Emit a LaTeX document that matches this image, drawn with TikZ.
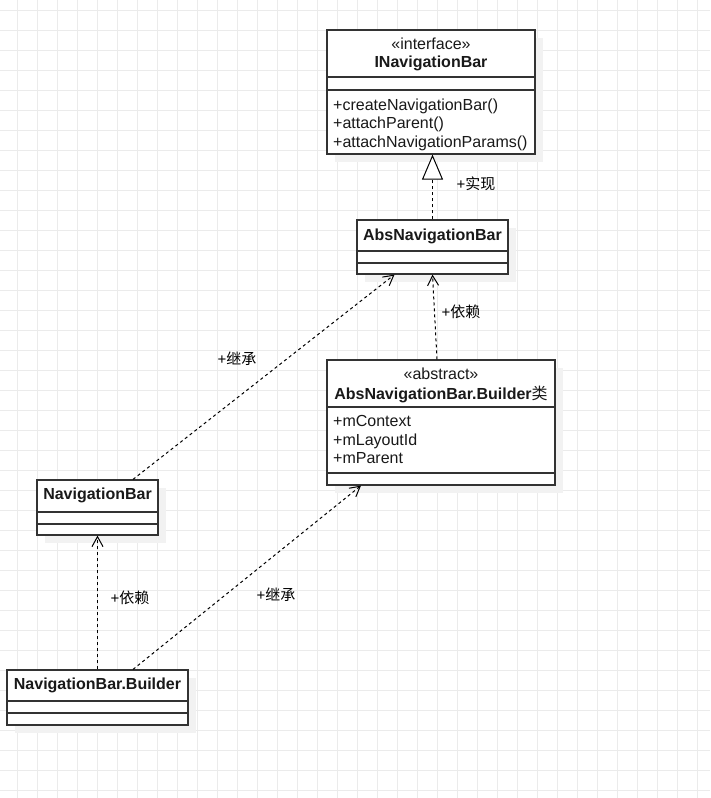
\documentclass[tikz,border=0pt]{standalone}
\usepackage{fontspec}
\setmainfont{Liberation Sans}
\newfontfamily\cjk{Noto Sans CJK SC}
\usetikzlibrary{arrows.meta,shadows}
\begin{document}
\begin{tikzpicture}[x=1pt,y=-1pt,
  gridline/.style={draw=black!8, line width=0.9pt},
  classbox/.style={draw=black!80, line width=1.2pt, fill=white, inner sep=0pt,
    drop shadow={shadow xshift=8pt, shadow yshift=-8pt, fill=black!5, opacity=1}},
  sepline/.style={draw=black!80, line width=1.2pt},
  txt/.style={inner sep=0pt, text=black!90, font=\fontsize{16}{18}\selectfont},
  ttl/.style={txt, font=\fontsize{16}{18}\selectfont\bfseries},
  lbl/.style={inner sep=0pt, font=\fontsize{15}{17}\selectfont},
  dep/.style={draw=black, line width=1pt, dash pattern=on 3pt off 3pt,
    -{Straight Barb[length=10pt,width=11pt]}},
  real/.style={draw=black, line width=1pt, dash pattern=on 3pt off 3pt,
    -{Triangle[open, length=25pt, width=21pt, fill=white]}}
]
\useasboundingbox (0,0) rectangle (710,798);
\fill[white] (0,0) rectangle (710,798);
% grid
\foreach \x in {17,37,...,710} \draw[gridline] (\x,0) -- (\x,798);
\foreach \y in {10,30,...,798} \draw[gridline] (0,\y) -- (710,\y);

% INavigationBar
\node[classbox, minimum width=208pt, minimum height=124pt] (inb) at (431,92) {};
\draw[sepline] (327,77) -- (535,77);
\draw[sepline] (327,90) -- (535,90);
\node[txt] (inbst) at (431,44) {«interface»};
\node[ttl] (inbt) at (431,63) {INavigationBar};
\node[txt, anchor=base west] (inbm1) at (333,110) {+createNavigationBar()};
\node[txt, anchor=base west] (inbm2) at (333,128.5) {+attachParent()};
\node[txt, anchor=base west] (inbm3) at (333,147) {+attachNavigationParams()};

% AbsNavigationBar
\node[classbox, minimum width=151pt, minimum height=54pt] (anb) at (432.5,247) {};
\draw[sepline] (357,251) -- (508,251);
\draw[sepline] (357,263) -- (508,263);
\node[ttl] (anbt) at (432.5,236) {AbsNavigationBar};

% AbsNavigationBar.Builder
\node[classbox, minimum width=228pt, minimum height=125pt] (abb) at (441,422.5) {};
\draw[sepline] (327,407) -- (555,407);
\draw[sepline] (327,473) -- (555,473);
\node[txt] (abbst) at (441,374) {«abstract»};
\node[ttl] (abbt) at (441,394) {AbsNavigationBar.Builder{\cjk\mdseries 类}};
\node[txt, anchor=base west] (abba1) at (333,426) {+mContext};
\node[txt, anchor=base west] (abba2) at (333,445) {+mLayoutId};
\node[txt, anchor=base west] (abba3) at (333,463.5) {+mParent};

% NavigationBar
\node[classbox, minimum width=121pt, minimum height=55pt] (nb) at (97.5,507.5) {};
\draw[sepline] (37,512) -- (158,512);
\draw[sepline] (37,524) -- (158,524);
\node[ttl] (nbt) at (97.5,495.5) {NavigationBar};

% NavigationBar.Builder
\node[classbox, minimum width=181pt, minimum height=55pt] (nbb) at (97.5,697.5) {};
\draw[sepline] (7,701) -- (188,701);
\draw[sepline] (7,713) -- (188,713);
\node[ttl] (nbbt) at (97.5,685.5) {NavigationBar.Builder};

% connectors
\draw[real] (anb.north) -- (anb.north |- inb.south);
\draw[dep] ([xshift=-4pt]abb.north) -- (anb.south);
\draw[dep] ([xshift=35.5pt]nb.north) -- ([xshift=-38pt]anb.south);
\draw[dep] (nbb.north) -- (nb.south);
\draw[dep] ([xshift=35.5pt]nbb.north) -- ([xshift=-80pt]abb.south);

% labels
\node[lbl] (l1) at (476,184) {+{\cjk 实现}};
\node[lbl] (l2) at (461,312) {+{\cjk 依赖}};
\node[lbl] (l3) at (237,359) {+{\cjk 继承}};
\node[lbl] (l4) at (130,598) {+{\cjk 依赖}};
\node[lbl] (l5) at (276,595) {+{\cjk 继承}};
\end{tikzpicture}
\end{document}
